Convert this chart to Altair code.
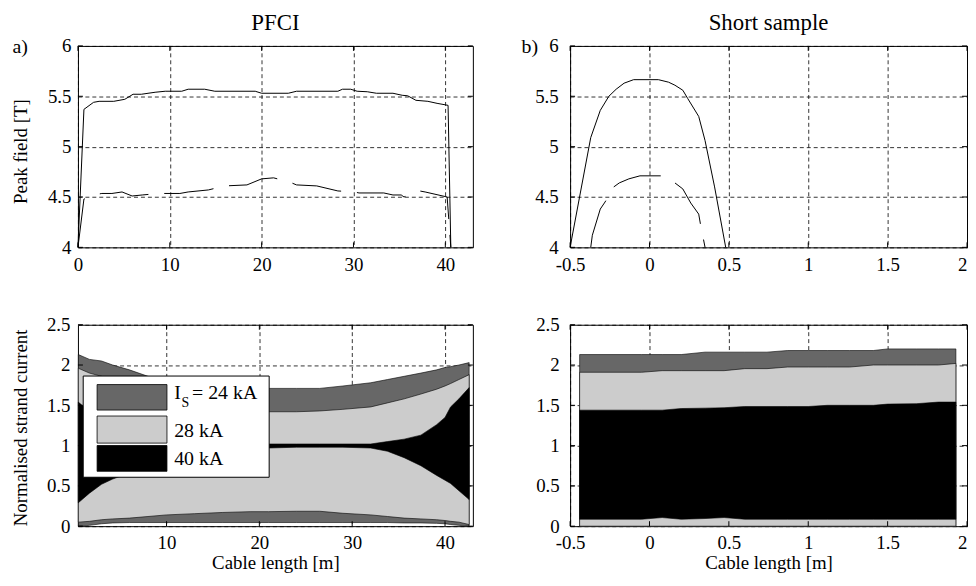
import altair as alt
import pandas as pd

FONT = "Liberation Serif"
FS = 19
LABEL = "replace(format(datum.value, '~g'), '\u2212', '-')"

# ---------------- data ----------------
# a) PFCI peak field
pfci_x_upper = [0, 0.65, 1.7, 2.3, 3.9, 5.1, 6.0, 6.9, 8.4, 9.5, 11.3, 12.0, 13.8, 14.9, 19.3, 20.0,
                22.9, 23.8, 28.3, 28.8, 29.7, 30.4, 31.5, 32.5, 34.3, 35.3, 35.9, 36.8, 38.1, 39.1, 40.3, 40.6]
pfci_b_upper = [4.0, 5.37, 5.44, 5.45, 5.45, 5.47, 5.52, 5.52, 5.54, 5.55, 5.55, 5.57, 5.57, 5.55, 5.55, 5.53,
                5.53, 5.55, 5.55, 5.57, 5.57, 5.55, 5.545, 5.53, 5.53, 5.51, 5.505, 5.46, 5.45, 5.43, 5.41, 4.0]
pfci_x_lower = [0, 0.65, 1.7, 2.6, 3.7, 4.8, 5.9, 7.0, 8.8, 11.1, 12.0, 14.2, 16.0, 18.4, 20.0, 21.3,
                23.0, 23.8, 26.0, 28.3, 30.1, 30.6, 33.3, 34.3, 35.2, 35.5, 37.2, 37.8, 40.2, 40.6]
pfci_b_lower = [4.0, 4.48, 4.52, 4.535, 4.535, 4.55, 4.51, 4.52, 4.535, 4.535, 4.55, 4.57, 4.61, 4.62, 4.68, 4.69,
                4.65, 4.62, 4.61, 4.56, 4.55, 4.54, 4.54, 4.52, 4.52, 4.50, 4.56, 4.55, 4.50, 4.0]

# b) Short sample peak field
ss_x_upper = [-0.5, -0.37, -0.31, -0.256, -0.21, -0.16, -0.1, 0.056, 0.12, 0.16, 0.21, 0.24, 0.31, 0.35, 0.41, 0.48]
ss_b_upper = [4.0, 5.09, 5.36, 5.50, 5.57, 5.63, 5.665, 5.665, 5.64, 5.61, 5.56, 5.48, 5.30, 5.06, 4.6, 4.0]
ss_x_lower = [-0.37, -0.36, -0.31, -0.28, -0.225, -0.19, -0.13, -0.06, 0.07, 0.16, 0.21, 0.26, 0.31, 0.32, 0.34, 0.35]
ss_b_lower = [4.0, 4.12, 4.38, 4.45, 4.6, 4.64, 4.68, 4.71, 4.71, 4.64, 4.58, 4.44, 4.33, 4.24, 4.08, 4.0]

# normalised strand current bands (min / max) per operating current
currents = ["24 kA", "28 kA", "40 kA"]
band_colors = ["#676767", "#cccccc", "#000000"]

pfci_band_x = [0.5, 1.7, 3, 4.2, 6, 8, 10, 13, 16, 19, 21, 24, 26.5, 29, 32, 33.8, 35.6, 37.4, 39.1, 40, 40.6, 41.5, 42.6]
pfci_hi_24 = [2.13, 2.07, 2.05, 2.0, 1.94, 1.86, 1.80, 1.75, 1.72, 1.71, 1.71, 1.71, 1.71, 1.74, 1.78, 1.82, 1.86, 1.90, 1.94, 1.97, 1.98, 2.0, 2.03]
pfci_lo_24 = [0.0, 0.01, 0.03, 0.04, 0.045, 0.045, 0.045, 0.045, 0.045, 0.045, 0.045, 0.045, 0.045, 0.045, 0.045, 0.045, 0.04, 0.04, 0.035, 0.03, 0.02, 0.01, 0.0]
pfci_hi_28 = [1.96, 1.90, 1.86, 1.82, 1.75, 1.68, 1.60, 1.52, 1.47, 1.43, 1.42, 1.42, 1.43, 1.45, 1.48, 1.53, 1.58, 1.64, 1.70, 1.74, 1.77, 1.82, 1.88]
pfci_lo_28 = [0.05, 0.06, 0.08, 0.09, 0.10, 0.12, 0.14, 0.155, 0.17, 0.18, 0.18, 0.185, 0.185, 0.16, 0.14, 0.12, 0.10, 0.09, 0.08, 0.07, 0.06, 0.05, 0.02]
pfci_hi_40 = [1.54, 1.42, 1.32, 1.25, 1.17, 1.11, 1.07, 1.05, 1.04, 1.03, 1.02, 1.02, 1.02, 1.02, 1.02, 1.05, 1.08, 1.13, 1.26, 1.35, 1.48, 1.58, 1.72]
pfci_lo_40 = [0.29, 0.41, 0.52, 0.585, 0.66, 0.73, 0.80, 0.88, 0.93, 0.96, 0.97, 0.98, 0.98, 0.98, 0.97, 0.93, 0.85, 0.75, 0.63, 0.57, 0.53, 0.44, 0.33]

ss_band_x = [-0.44, -0.05, 0.08, 0.2, 0.35, 0.47, 0.6, 0.74, 0.87, 1.0, 1.12, 1.26, 1.41, 1.5, 1.68, 1.82, 1.93]
ss_hi_24 = [2.13, 2.13, 2.13, 2.13, 2.16, 2.16, 2.16, 2.16, 2.18, 2.18, 2.18, 2.18, 2.18, 2.2, 2.2, 2.2, 2.2]
ss_lo_24 = [0.0] * 17
ss_hi_28 = [1.91, 1.91, 1.93, 1.93, 1.93, 1.93, 1.955, 1.955, 1.975, 1.975, 1.975, 1.975, 2.0, 2.0, 2.0, 2.0, 2.02]
ss_lo_28 = [0.0] * 17
ss_hi_40 = [1.44, 1.44, 1.44, 1.46, 1.465, 1.47, 1.485, 1.485, 1.485, 1.485, 1.5, 1.5, 1.5, 1.515, 1.52, 1.54, 1.54]
ss_lo_40 = [0.086, 0.086, 0.107, 0.086, 0.095, 0.107, 0.086, 0.086, 0.086, 0.086, 0.086, 0.086, 0.086, 0.086, 0.086, 0.086, 0.086]

pfci_xticks_top = [0, 10, 20, 30, 40]
pfci_xticks_bottom = [10, 20, 30, 40]
ss_xticks = [-0.5, 0, 0.5, 1, 1.5, 2]
peak_yticks = [4, 4.5, 5, 5.5, 6]
cur_yticks = [0, 0.5, 1, 1.5, 2, 2.5]

# ---------------- layout ----------------
W_L, W_R, H = 398, 400, 203


def axis_kw(values):
    return dict(values=values, labelExpr=LABEL,
                grid=True, gridColor="black", gridDash=[4, 3], gridWidth=0.8,
                ticks=False, domain=False, labelFlush=False, labelOverlap=False)


def x_axis(values, title=None, last_right=False):
    kw = axis_kw(values)
    kw.update(labelPadding=8)
    kw["title"] = title
    if title is not None:
        kw.update(titleY=43, titleBaseline="alphabetic")
    if last_right:
        kw["labelAlign"] = {"condition": {"test": "datum.value >= 2", "value": "right"}, "value": "center"}
    return alt.Axis(**kw)


def y_axis(values, title, pad, ty):
    kw = axis_kw(values)
    kw.update(labelPadding=pad)
    kw["title"] = title
    if title is not None:
        kw.update(titleX=-58, titleY=ty, titleBaseline="middle", titleAlign="center", titleAngle=270)
    return alt.Axis(**kw)


def tick_layers(xticks, yticks, xsc, ysc, W, L=5):
    dx = pd.DataFrame({"t": xticks})
    dy = pd.DataFrame({"t": yticks})
    X = alt.X("t:Q", scale=xsc)
    Y = alt.Y("t:Q", scale=ysc)
    rx = alt.Chart(dx).mark_rule(color="black", strokeWidth=1)
    ry = alt.Chart(dy).mark_rule(color="black", strokeWidth=1)
    return [
        rx.encode(x=X, y=alt.value(H), y2=alt.value(H - L)),
        rx.encode(x=X, y=alt.value(0), y2=alt.value(L)),
        ry.encode(y=Y, x=alt.value(0), x2=alt.value(L)),
        ry.encode(y=Y, x=alt.value(W), x2=alt.value(W - L)),
    ]


def text_layer(txt, x, y, size, align="left", baseline="alphabetic"):
    return alt.Chart(pd.DataFrame({"t": [txt]})).mark_text(
        font=FONT, fontSize=size, align=align, baseline=baseline, color="black"
    ).encode(text="t:N", x=alt.value(x), y=alt.value(y))


def line_panel(W, xdom, xticks, xu, bu, xl, bl, ytitle, ylabpad, tag, tag_dx, title, last_right):
    xsc = alt.Scale(domain=xdom, nice=False, zero=False)
    ysc = alt.Scale(domain=[4, 6], nice=False, zero=False)
    up = pd.DataFrame({"x": xu, "b": bu})
    lo = pd.DataFrame({"x": xl, "b": bl})
    l1 = alt.Chart(up).mark_line(color="black", strokeWidth=1).encode(
        x=alt.X("x:Q", scale=xsc, axis=x_axis(xticks, last_right=last_right)),
        y=alt.Y("b:Q", scale=ysc, axis=y_axis(peak_yticks, ytitle, ylabpad, 106)),
    )
    l2 = alt.Chart(lo).mark_line(color="black", strokeWidth=1, strokeDash=[50, 16]).encode(
        x=alt.X("x:Q", scale=xsc),
        y=alt.Y("b:Q", scale=ysc),
    )
    layers = [l1, l2] + tick_layers(xticks, peak_yticks, xsc, ysc, W)
    layers.append(text_layer(title, W / 2, -34, 23, align="center", baseline="top"))
    layers.append(text_layer(tag, tag_dx, 7, 20))
    return alt.layer(*layers).properties(width=W, height=H)


def band_panel(W, xdom, xticks, bx, los, his, ytitle, ylabpad, last_right, legend):
    xsc = alt.Scale(domain=xdom, nice=False, zero=False)
    ysc = alt.Scale(domain=[0, 2.5], nice=False, zero=False)
    layers = []
    for i, (cur, lo, hi) in enumerate(zip(currents, los, his)):
        df = pd.DataFrame({"x": bx, "lo": lo, "hi": hi})
        if i == 0:
            X = alt.X("x:Q", scale=xsc, axis=x_axis(xticks, title="Cable length [m]", last_right=last_right))
            Y = alt.Y("lo:Q", scale=ysc, axis=y_axis(cur_yticks, ytitle, ylabpad, 103.5))
        else:
            X = alt.X("x:Q", scale=xsc)
            Y = alt.Y("lo:Q", scale=ysc)
        layers.append(
            alt.Chart(df).mark_area(fill=band_colors[i], stroke="black", strokeWidth=0.6, fillOpacity=1).encode(
                x=X, y=Y, y2="hi:Q",
            )
        )
    if legend:
        one = pd.DataFrame({"a": [0]})
        layers.append(alt.Chart(one).mark_rect(fill="white", stroke="black", strokeWidth=1).encode(
            x=alt.value(5.3), x2=alt.value(192.7), y=alt.value(51.7), y2=alt.value(153.7)))
        tops = [60.3, 92.0, 121.7]
        hs = [25.7, 27.3, 26.0]
        bases = [75.3, 112.7, 141.0]
        for i, cur in enumerate(currents):
            layers.append(alt.Chart(one).mark_rect(fill=band_colors[i], stroke="black", strokeWidth=0.8).encode(
                x=alt.value(19.3), x2=alt.value(89.7), y=alt.value(tops[i]), y2=alt.value(tops[i] + hs[i])))
            if i == 0:
                layers.append(text_layer("I", 97, bases[i], FS + 1))
                layers.append(text_layer("S", 104.3, bases[i] + 8, 14))
                layers.append(text_layer("= " + cur, 115, bases[i], FS + 1))
            else:
                layers.append(text_layer(cur, 97, bases[i], FS + 1))
    layers += tick_layers(xticks, cur_yticks, xsc, ysc, W)
    return alt.layer(*layers).properties(width=W, height=H)


tl = line_panel(W_L, [0, 43], pfci_xticks_top, pfci_x_upper, pfci_b_upper, pfci_x_lower, pfci_b_lower,
                "Peak field [T]", 7, "a)", -66, "PFCI", False)
tr = line_panel(W_R, [-0.5, 2], ss_xticks, ss_x_upper, ss_b_upper, ss_x_lower, ss_b_lower,
                None, 12, "b)", -49, "Short sample", True)
bl = band_panel(W_L, [0.46, 43], pfci_xticks_bottom, pfci_band_x,
                [pfci_lo_24, pfci_lo_28, pfci_lo_40], [pfci_hi_24, pfci_hi_28, pfci_hi_40],
                "Normalised strand current", 8, False, True)
br = band_panel(W_R, [-0.5, 2], ss_xticks, ss_band_x,
                [ss_lo_24, ss_lo_28, ss_lo_40], [ss_hi_24, ss_hi_28, ss_hi_40],
                None, 11, True, False)

chart = alt.concat(
    tl, tr, bl, br,
    columns=2,
    spacing=alt.RowColnumber(row=78, column=98),
    bounds="flush",
    align="each",
).properties(
    padding={"left": 2.5, "top": 1, "right": 0, "bottom": 0},
    background="white",
).configure_view(
    stroke="black", strokeWidth=1
).configure_axis(
    labelFont=FONT, labelFontSize=FS, labelColor="black",
    titleFont=FONT, titleFontSize=FS, titleFontWeight="normal", titleColor="black",
)

chart.save("out.html", embed_options={"renderer": "svg", "actions": False})
